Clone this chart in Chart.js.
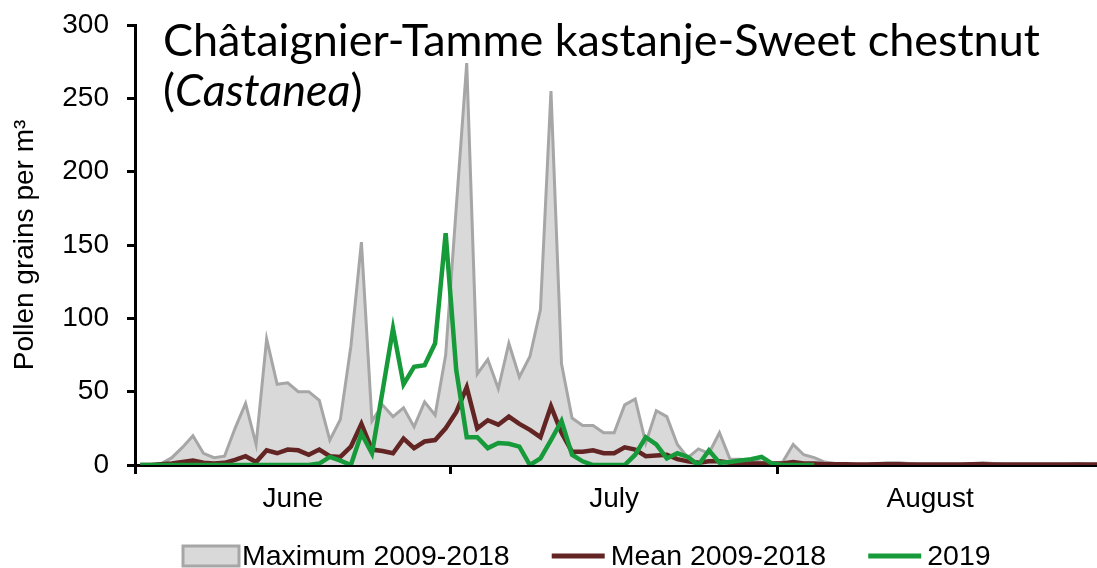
<!DOCTYPE html>
<html>
<head>
<meta charset="utf-8">
<script src="https://cdn.jsdelivr.net/npm/chart.js@4.4.1/dist/chart.umd.min.js"></script>
<style>
  html, body { margin: 0; padding: 0; background: #fff; }
  #wrap { width: 1097px; height: 568px; }
</style>
</head>
<body>
<div id="wrap"><canvas id="chart"></canvas></div>
<script>
// Daily pollen counts from 1 June (index 0) onwards
const maxValues = [
    0, 0, 1, 5, 12, 20, 8, 5, 6, 25,
    42, 14, 86, 55, 56, 50, 50, 44, 17, 31,
    81, 152, 30, 41, 33, 39, 26, 43, 34, 75,
    175, 274, 62, 72, 52, 83, 60, 74, 106, 255,
    69, 32, 27, 27, 22, 22, 41, 45, 15, 37,
    33, 14, 5, 11, 8, 22, 4, 4, 3, 2,
    1, 2, 14, 7, 5, 2, 1, 0.5, 0.5, 0.5,
    1, 1.5, 1.5, 1, 0.5, 0.5, 0.5, 0.5, 0.5, 1,
    1.5, 1, 0.5, 0.5, 0.5, 0.5, 0.5, 0.5, 0.5, 1,
    0.5, 0.5
];
const meanValues = [
    0, 0, 0.5, 1, 2, 3, 1.5, 1, 1.5, 3.5,
    6, 2, 10, 8, 10.5, 10, 7, 10.5, 6, 5.5,
    12.5, 28, 10.5, 9.5, 8, 18, 11.5, 16, 17, 25,
    36, 53, 25, 30.5, 27.5, 33, 28, 24, 19, 40,
    22, 9, 9, 10, 8, 8, 12, 10.5, 6, 6.5,
    7, 4, 2.5, 1.5, 2.5, 2.5, 1.5, 1, 1, 1,
    1, 1, 2, 1, 1, 0.5, 0.5, 0.5, 0.3, 0.3,
    0.5, 0.5, 0.5, 0.3, 0.3, 0.3, 0.3, 0.3, 0.3, 0.5,
    0.5, 0.3, 0.3, 0.3, 0.3, 0.3, 0.3, 0.3, 0.3, 0.3,
    0.3, 0.3
];
const values2019 = [
    0, 0, 0, 0, 0, 0, 0, 0, 0, 0,
    0, 0, 0, 0, 0, 0, 0, 1, 5.5, 3,
    0, 21.5, 8, 50, 93, 55, 67, 68, 83, 158,
    65, 19, 19, 11.5, 15, 14.5, 12.5, 0, 4.5, 17,
    30, 7, 2.5, 0, 0, 0, 0, 7, 19, 14,
    4.5, 8, 5.5, 0, 10, 1.5, 2, 3, 4, 5.5,
    1, 0, 0, 0, 0
];

const monthNames = ['June', 'July', 'August'];
const monthLabelDays = [15, 45.5, 75.5];
const monthStartDays = [0, 30, 61];

const seriesNames = ['Maximum 2009-2018', 'Mean 2009-2018', '2019'];

const greyLine = '#a6a6a6';
const greyFill = '#d9d9d9';
const brown = '#632523';
const green = '#179b3a';

const textFamily = 'Liberation Sans, Arial, sans-serif';
const axisFont = { family: textFamily, size: 28 };

// each daily value sits in the middle of its day slot
const toPoints = arr => arr.map((v, i) => ({ x: i + 0.5, y: v }));

// Title written inside the plot area, genus in italics
const titlePlugin = {
    id: 'plotTitle',
    afterDraw(chart) {
        const ctx = chart.ctx;
        const line1 = 'Châtaignier-Tamme kastanje-Sweet chestnut';
        const fam = 'Lato, Carlito, sans-serif';
        ctx.save();
        ctx.font = '40px ' + fam;
        const size = 40 * 877 / ctx.measureText(line1).width;
        ctx.font = size + 'px ' + fam;
        ctx.fillStyle = '#000';
        ctx.textBaseline = 'alphabetic';
        ctx.fillText(line1, 163, 56);
        let x = 163;
        const y = 106;
        ctx.fillText('(', x, y);
        x += ctx.measureText('(').width;
        ctx.font = 'italic ' + size + 'px ' + fam;
        ctx.fillText('Castanea', x, y);
        x += ctx.measureText('Castanea').width;
        ctx.font = size + 'px ' + fam;
        ctx.fillText(')', x, y);
        ctx.restore();
    }
};

// Legend along the bottom: grey box for the maximum, short lines for the others
const legendPlugin = {
    id: 'bottomLegend',
    afterDraw(chart) {
        const ctx = chart.ctx;
        const items = [
            { text: seriesNames[0], kind: 'box', color: greyFill, edge: greyLine },
            { text: seriesNames[1], kind: 'line', color: brown },
            { text: seriesNames[2], kind: 'line', color: green }
        ];
        const y = 556;
        let x = 183;
        ctx.save();
        ctx.font = '28.5px ' + textFamily;
        ctx.textBaseline = 'middle';
        items.forEach(item => {
            if (item.kind === 'box') {
                ctx.fillStyle = item.color;
                ctx.fillRect(x, y - 10, 56, 20);
                ctx.strokeStyle = item.edge;
                ctx.lineWidth = 3;
                ctx.strokeRect(x, y - 10, 56, 20);
            } else {
                ctx.strokeStyle = item.color;
                ctx.lineWidth = 5;
                ctx.beginPath();
                ctx.moveTo(x, y);
                ctx.lineTo(x + 53, y);
                ctx.stroke();
            }
            x += 59;
            ctx.fillStyle = '#000';
            ctx.fillText(item.text, x, y + 1);
            x += ctx.measureText(item.text).width + 42;
        });
        ctx.restore();
    }
};

const ctx = document.getElementById('chart').getContext('2d');

new Chart(ctx, {
    type: 'line',
    data: {
        datasets: [
            {
                label: seriesNames[2],
                data: toPoints(values2019),
                borderColor: green,
                borderWidth: 4.5,
                pointRadius: 0,
                fill: false
            },
            {
                label: seriesNames[1],
                data: toPoints(meanValues),
                borderColor: brown,
                borderWidth: 4.5,
                pointRadius: 0,
                fill: false
            },
            {
                label: seriesNames[0],
                data: toPoints(maxValues),
                borderColor: greyLine,
                backgroundColor: greyFill,
                borderWidth: 3,
                pointRadius: 0,
                fill: 'origin'
            }
        ]
    },
    options: {
        responsive: true,
        maintainAspectRatio: false,
        animation: false,
        layout: { padding: { top: 25, right: 0, bottom: 53, left: 0 } },
        plugins: {
            title: { display: false },
            tooltip: { enabled: false },
            legend: { display: false }
        },
        scales: {
            x: {
                type: 'linear',
                min: 0,
                max: 91.35,
                afterBuildTicks: scale => {
                    scale.ticks = [...monthStartDays, ...monthLabelDays]
                        .sort((a, b) => a - b)
                        .map(v => ({ value: v }));
                },
                afterFit: scale => {
                    scale.height = 50;
                    scale.paddingLeft = 0;
                    scale.paddingRight = 0;
                },
                border: { display: true, color: '#000', width: 3 },
                grid: {
                    drawOnChartArea: false,
                    drawTicks: true,
                    tickLength: 9,
                    lineWidth: 3,
                    tickColor: c => (c.tick && monthStartDays.includes(c.tick.value)) ? '#000' : 'rgba(0,0,0,0)'
                },
                ticks: {
                    autoSkip: false,
                    maxRotation: 0,
                    padding: 8,
                    color: '#000',
                    font: axisFont,
                    callback: v => {
                        const k = monthLabelDays.indexOf(v);
                        return k >= 0 ? monthNames[k] : '';
                    }
                }
            },
            y: {
                min: 0,
                max: 300,
                afterFit: scale => {
                    scale.width = 135;
                    scale.paddingTop = 0;
                    scale.paddingBottom = 0;
                },
                border: { display: true, color: '#000', width: 3 },
                grid: {
                    drawOnChartArea: false,
                    drawTicks: true,
                    tickLength: 8,
                    lineWidth: 3,
                    color: '#000'
                },
                ticks: {
                    stepSize: 50,
                    padding: 18,
                    color: '#000',
                    font: axisFont
                },
                title: {
                    display: true,
                    text: 'Pollen grains per m³',
                    color: '#000',
                    font: axisFont,
                    padding: { top: 8, bottom: 0 }
                }
            }
        }
    },
    plugins: [titlePlugin, legendPlugin]
});
</script>
</body>
</html>
